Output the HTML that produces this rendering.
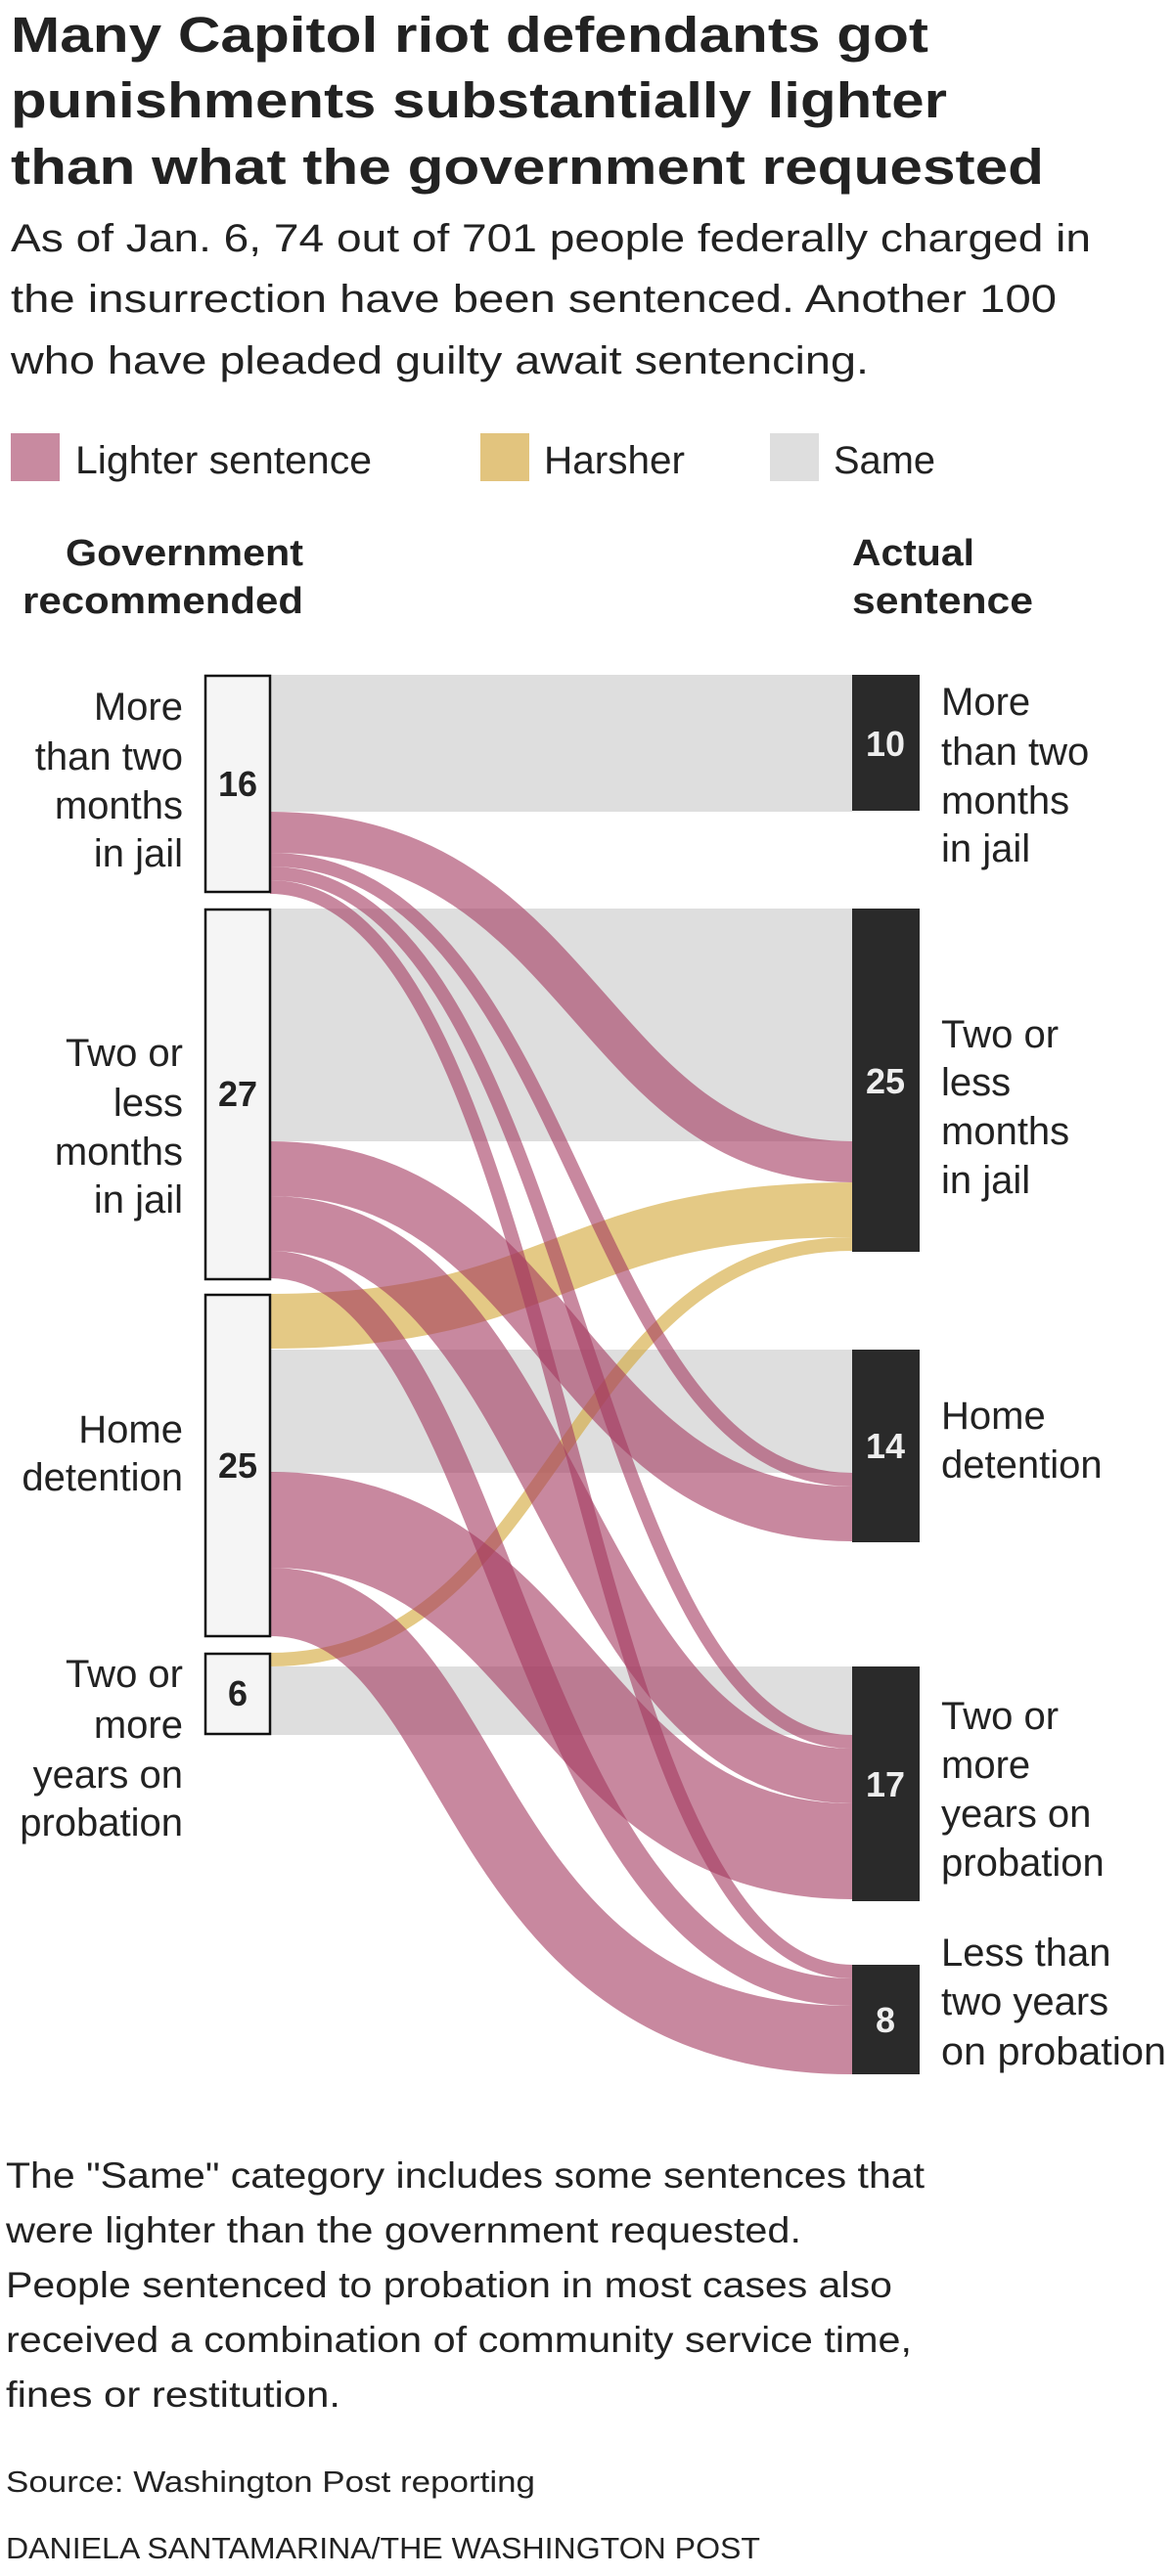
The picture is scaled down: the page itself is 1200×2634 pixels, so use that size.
<!DOCTYPE html>
<html><head><meta charset="utf-8"><style>
html,body{margin:0;padding:0;background:#fff;}
svg{display:block;}
text{fill:#222;}
.t{font-family:"Liberation Sans Narrow","Liberation Sans",sans-serif;font-weight:bold;font-size:51px;}
.s{font-family:"Liberation Sans Narrow","Liberation Sans",sans-serif;font-size:40px;}
.h{font-family:"Liberation Sans Narrow","Liberation Sans",sans-serif;font-weight:bold;font-size:38px;}
.l{font-family:"Liberation Sans Narrow","Liberation Sans",sans-serif;font-size:40px;}
.n{font-family:"Liberation Sans",sans-serif;font-weight:bold;font-size:36px;}
.f{font-family:"Liberation Sans Narrow","Liberation Sans",sans-serif;font-size:37px;}
.c{font-family:"Liberation Sans Narrow","Liberation Sans",sans-serif;font-size:31px;}
</style></head><body>
<svg width="1200" height="2634" viewBox="0 0 1200 2634" xmlns="http://www.w3.org/2000/svg">
<text class="t" x="11" y="53" textLength="938" lengthAdjust="spacingAndGlyphs">Many Capitol riot defendants got</text>
<text class="t" x="11" y="120" textLength="957" lengthAdjust="spacingAndGlyphs">punishments substantially lighter</text>
<text class="t" x="11" y="188" textLength="1056" lengthAdjust="spacingAndGlyphs">than what the government requested</text>
<text class="s" x="11" y="257" textLength="1104" lengthAdjust="spacingAndGlyphs">As of Jan. 6, 74 out of 701 people federally charged in</text>
<text class="s" x="11" y="319" textLength="1069" lengthAdjust="spacingAndGlyphs">the insurrection have been sentenced. Another 100</text>
<text class="s" x="11" y="382" textLength="877" lengthAdjust="spacingAndGlyphs">who have pleaded guilty await sentencing.</text>

<rect x="11" y="443" width="50" height="49" fill="#c88aa0"/>
<text class="s" x="77" y="484" textLength="303" lengthAdjust="spacingAndGlyphs">Lighter sentence</text>
<rect x="491" y="443" width="50" height="49" fill="#e2c47e"/>
<text class="s" x="556" y="484" textLength="144" lengthAdjust="spacingAndGlyphs">Harsher</text>
<rect x="787" y="443" width="50" height="49" fill="#dedede"/>
<text class="s" x="852" y="484" textLength="104" lengthAdjust="spacingAndGlyphs">Same</text>

<text class="h" x="310" y="578" text-anchor="end" textLength="243" lengthAdjust="spacingAndGlyphs">Government</text>
<text class="h" x="310" y="627" text-anchor="end" textLength="287" lengthAdjust="spacingAndGlyphs">recommended</text>
<text class="h" x="871" y="578" textLength="125" lengthAdjust="spacingAndGlyphs">Actual</text>
<text class="h" x="871" y="627" textLength="185" lengthAdjust="spacingAndGlyphs">sentence</text>

<g fill="#dedede">
<rect x="276" y="690" width="595" height="140"/>
<rect x="276" y="929" width="595" height="238"/>
<rect x="276" y="1380" width="595" height="126"/>
<rect x="276" y="1704" width="595" height="70"/>
</g>
<g fill="none" stroke="#d4a83a" stroke-opacity="0.62">
<path d="M276,1351 C573,1351 573,1237 871,1237" stroke-width="56"/>
<path d="M276,1697 C573,1697 573,1272 871,1272" stroke-width="14"/>
</g>
<g fill="none" stroke="#a3385f" stroke-opacity="0.6">
<path d="M276,851 C600,851 600,1188 871,1188" stroke-width="42"/>
<path d="M276,879 C590,879 590,1513 871,1513" stroke-width="14"/>
<path d="M276,893 C590,893 590,1781 871,1781" stroke-width="14"/>
<path d="M276,907 C580,907 580,2016 871,2016" stroke-width="14"/>
<path d="M276,1195 C573,1195 573,1548 871,1548" stroke-width="56"/>
<path d="M276,1251 C573,1251 573,1816 871,1816" stroke-width="56"/>
<path d="M276,1293 C520,1293 520,2037 871,2037" stroke-width="28"/>
<path d="M276,1554 C573,1554 573,1893 871,1893" stroke-width="98"/>
<path d="M276,1638 C500,1638 460,2086 871,2086" stroke-width="70"/>
</g>

<g fill="#f5f5f5" stroke="#111" stroke-width="2.5">
<rect x="210" y="691" width="66" height="221"/>
<rect x="210" y="930" width="66" height="378"/>
<rect x="210" y="1324" width="66" height="349"/>
<rect x="210" y="1691" width="66" height="82"/>
</g>
<text class="n" x="243" y="814" text-anchor="middle">16</text>
<text class="n" x="243" y="1131" text-anchor="middle">27</text>
<text class="n" x="243" y="1511" text-anchor="middle">25</text>
<text class="n" x="243" y="1744" text-anchor="middle">6</text>
<g fill="#2a2a2a">
<rect x="871" y="690" width="69" height="139"/>
<rect x="871" y="929" width="69" height="351"/>
<rect x="871" y="1380" width="69" height="197"/>
<rect x="871" y="1704" width="69" height="240"/>
<rect x="871" y="2009" width="69" height="112"/>
</g>
<text class="n" x="905" y="773" text-anchor="middle" style="fill:#eee">10</text>
<text class="n" x="905" y="1118" text-anchor="middle" style="fill:#eee">25</text>
<text class="n" x="905" y="1491" text-anchor="middle" style="fill:#eee">14</text>
<text class="n" x="905" y="1837" text-anchor="middle" style="fill:#eee">17</text>
<text class="n" x="905" y="2078" text-anchor="middle" style="fill:#eee">8</text>

<text class="l" x="187" y="736" text-anchor="end">More</text>
<text class="l" x="187" y="787" text-anchor="end">than two</text>
<text class="l" x="187" y="837" text-anchor="end">months</text>
<text class="l" x="187" y="886" text-anchor="end">in jail</text>
<text class="l" x="187" y="1090" text-anchor="end">Two or</text>
<text class="l" x="187" y="1141" text-anchor="end">less</text>
<text class="l" x="187" y="1191" text-anchor="end">months</text>
<text class="l" x="187" y="1240" text-anchor="end">in jail</text>
<text class="l" x="187" y="1475" text-anchor="end">Home</text>
<text class="l" x="187" y="1524" text-anchor="end">detention</text>
<text class="l" x="187" y="1725" text-anchor="end">Two or</text>
<text class="l" x="187" y="1777" text-anchor="end">more</text>
<text class="l" x="187" y="1828" text-anchor="end">years on</text>
<text class="l" x="187" y="1877" text-anchor="end">probation</text>

<text class="l" x="962" y="731">More</text>
<text class="l" x="962" y="782">than two</text>
<text class="l" x="962" y="832">months</text>
<text class="l" x="962" y="881">in jail</text>
<text class="l" x="962" y="1071">Two or</text>
<text class="l" x="962" y="1120">less</text>
<text class="l" x="962" y="1170">months</text>
<text class="l" x="962" y="1220">in jail</text>
<text class="l" x="962" y="1461">Home</text>
<text class="l" x="962" y="1511">detention</text>
<text class="l" x="962" y="1768">Two or</text>
<text class="l" x="962" y="1818">more</text>
<text class="l" x="962" y="1868">years on</text>
<text class="l" x="962" y="1918">probation</text>
<text class="l" x="962" y="2010">Less than</text>
<text class="l" x="962" y="2060">two years</text>
<text class="l" x="962" y="2111" textLength="230" lengthAdjust="spacingAndGlyphs">on probation</text>

<text class="f" x="6" y="2237" textLength="939" lengthAdjust="spacingAndGlyphs">The "Same" category includes some sentences that</text>
<text class="f" x="6" y="2293" textLength="813" lengthAdjust="spacingAndGlyphs">were lighter than the government requested.</text>
<text class="f" x="6" y="2349" textLength="906" lengthAdjust="spacingAndGlyphs">People sentenced to probation in most cases also</text>
<text class="f" x="6" y="2405" textLength="926" lengthAdjust="spacingAndGlyphs">received a combination of community service time,</text>
<text class="f" x="6" y="2461" textLength="342" lengthAdjust="spacingAndGlyphs">fines or restitution.</text>
<text class="c" x="6" y="2548" textLength="541" lengthAdjust="spacingAndGlyphs">Source: Washington Post reporting</text>
<text class="c" x="6" y="2616" textLength="771" lengthAdjust="spacingAndGlyphs">DANIELA SANTAMARINA/THE WASHINGTON POST</text>
</svg>
</body></html>
